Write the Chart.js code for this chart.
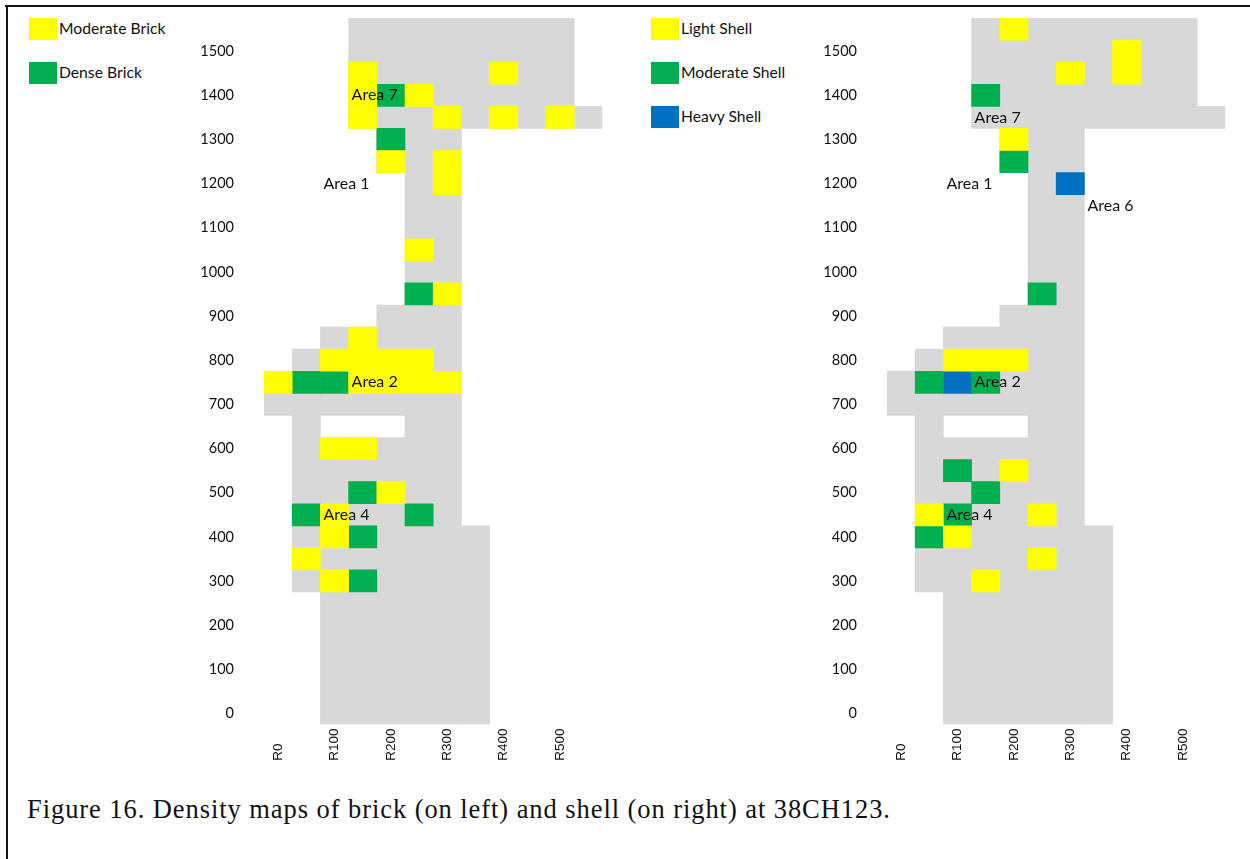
<!DOCTYPE html>
<html lang="en">
<head>
<meta charset="UTF-8">
<title>Density maps of brick and shell at 38CH123</title>
<script src="https://cdn.jsdelivr.net/npm/chart.js"></script>
<style>
  html, body { margin: 0; padding: 0; background: #fff; }
  body { position: relative; width: 1250px; height: 859px; overflow: hidden; font-family: 'Lato', sans-serif; color: #111; }
  canvas { position: absolute; top: 18px; }
  #brickChart { left: 164px; }
  #shellChart { left: 787px; }
  .frame-top { position: absolute; left: 5px; right: 0; top: 5px; height: 2px; background: #111; }
  .frame-left { position: absolute; left: 6px; top: 5px; bottom: 0; width: 2px; background: #111; }
  .swatch { position: absolute; width: 28px; height: 22px; }
  .key { position: absolute; font-size: 15.7px; line-height: 22px; white-space: nowrap; margin-top: -1px; }
  #caption { position: absolute; left: 27px; top: 793px; font-family: 'Liberation Serif', serif; font-size: 26.5px; letter-spacing: 0.93px; line-height: 32px; white-space: nowrap; color: #111; }
</style>
</head>
<body>
<div class="frame-top"></div>
<div class="frame-left"></div>
<div id="legends"></div>
<canvas id="brickChart" width="440" height="752"></canvas>
<canvas id="shellChart" width="440" height="752"></canvas>
<div id="caption">Figure 16. Density maps of brick (on left) and shell (on right) at 38CH123.</div>

<script>
const xCategories = ['R0', 'R50', 'R100', 'R150', 'R200', 'R250', 'R300', 'R350', 'R400', 'R450', 'R500', 'R550'];
const yTicks = [0, 100, 200, 300, 400, 500, 600, 700, 800, 900, 1000, 1100, 1200, 1300, 1400, 1500];

// surveyed area, same for both maps: column, first row, last row
const siteRuns = [
  ['R0', 700, 750],
  ['R50', 300, 800],
  ['R100', 0, 600], ['R100', 700, 850],
  ['R150', 0, 600], ['R150', 700, 850], ['R150', 1350, 1550],
  ['R200', 0, 600], ['R200', 700, 900], ['R200', 1250, 1550],
  ['R250', 0, 1550],
  ['R300', 0, 1550],
  ['R350', 0, 400], ['R350', 1350, 1550],
  ['R400', 1350, 1550],
  ['R450', 1350, 1550],
  ['R500', 1350, 1550],
  ['R550', 1350, 1350]
];

const moderateBrick = [
  ['R150', 1450], ['R400', 1450], ['R150', 1400], ['R250', 1400],
  ['R150', 1350], ['R300', 1350], ['R400', 1350], ['R500', 1350],
  ['R200', 1250], ['R300', 1250], ['R300', 1200], ['R250', 1050], ['R300', 950],
  ['R150', 850], ['R100', 800], ['R150', 800], ['R200', 800], ['R250', 800],
  ['R0', 750], ['R150', 750], ['R200', 750], ['R250', 750], ['R300', 750],
  ['R100', 600], ['R150', 600], ['R200', 500], ['R100', 450], ['R100', 400],
  ['R50', 350], ['R100', 300]
];
const denseBrick = [
  ['R200', 1400], ['R200', 1300], ['R250', 950], ['R50', 750], ['R100', 750],
  ['R150', 500], ['R50', 450], ['R250', 450], ['R150', 400], ['R150', 300]
];

const lightShell = [
  ['R200', 1550], ['R400', 1500], ['R300', 1450], ['R400', 1450], ['R200', 1300],
  ['R100', 800], ['R150', 800], ['R200', 800], ['R200', 550], ['R50', 450],
  ['R250', 450], ['R100', 400], ['R250', 350], ['R150', 300]
];
const moderateShell = [
  ['R150', 1400], ['R200', 1250], ['R250', 950], ['R50', 750], ['R150', 750],
  ['R100', 550], ['R150', 500], ['R100', 450], ['R50', 400]
];
const heavyShell = [['R300', 1200], ['R100', 750]];

const brickAreas = [['Area 7', 'R150', 1400], ['Area 1', 'R100', 1200], ['Area 2', 'R150', 750], ['Area 4', 'R100', 450]];
const shellAreas = [['Area 7', 'R150', 1350], ['Area 1', 'R100', 1200], ['Area 6', 'R350', 1150], ['Area 2', 'R150', 750], ['Area 4', 'R100', 450]];

const YELLOW = '#ffff00';
const GREEN = '#00b050';
const BLUE = '#0070c0';
const GREY = '#d8d8d8';
const TEXT = '#111';
const LABEL_FONT = "16px Lato";

const toCellBars = (cells) => cells.map(([col, row]) => ({ x: col, y: [row - 25, row + 25] }));
const toRunBars = (runs) => runs.map(([col, from, to]) => ({ x: col, y: [from - 25, to + 25] }));

function areaLabelPlugin(areas) {
  return {
    id: 'areaLabels',
    afterDatasetsDraw(chart) {
      const { ctx, scales } = chart;
      const halfCell = (scales.x.getPixelForValue(1) - scales.x.getPixelForValue(0)) / 2;
      ctx.save();
      ctx.font = LABEL_FONT;
      ctx.fillStyle = TEXT;
      ctx.textBaseline = 'middle';
      areas.forEach(([text, col, row]) => {
        ctx.fillText(text, scales.x.getPixelForValue(xCategories.indexOf(col)) - halfCell + 3, scales.y.getPixelForValue(row));
      });
      ctx.restore();
    }
  };
}

function drawMap(canvasId, series, areas) {
  const datasets = series.map(([label, cells, color]) => ({
    label,
    data: toCellBars(cells),
    backgroundColor: color,
    order: 1
  }));
  datasets.push({ label: 'Surveyed', data: toRunBars(siteRuns), backgroundColor: GREY, order: 2 });

  new Chart(document.getElementById(canvasId), {
    type: 'bar',
    data: { labels: xCategories, datasets },
    plugins: [areaLabelPlugin(areas)],
    options: {
      responsive: false,
      animation: false,
      layout: { autoPadding: false, padding: { top: 0, left: 0, right: 1.6, bottom: 0.5 } },
      datasets: { bar: { grouped: false, barPercentage: 1, categoryPercentage: 1, borderWidth: 0 } },
      plugins: { legend: { display: false }, tooltip: { enabled: false } },
      scales: {
        x: {
          type: 'category',
          grid: { display: false, drawTicks: false },
          border: { display: false },
          afterFit: (scale) => { scale.height = 45; scale.paddingLeft = 0; scale.paddingRight = 0; },
          ticks: {
            autoSkip: false,
            minRotation: 90,
            maxRotation: 90,
            padding: 4,
            color: TEXT,
            font: { family: 'Liberation Sans', size: 13.5 },
            // only every 100 is labelled, short names kept level at the bottom
            callback(value) {
              const name = this.getLabelForValue(value);
              return Number(name.slice(1)) % 100 === 0 ? name.padEnd(4, '\u2007') : '';
            }
          }
        },
        y: {
          type: 'linear',
          min: -25,
          max: 1575,
          grid: { display: false, drawTicks: false },
          border: { display: false },
          afterFit: (scale) => { scale.width = 100; scale.paddingTop = 0; scale.paddingBottom = 0; },
          afterBuildTicks: (scale) => { scale.ticks = yTicks.map((value) => ({ value })); },
          ticks: {
            padding: 30,
            color: TEXT,
            font: { family: 'Lato', size: 14.5 },
            callback: (value) => String(value)
          }
        }
      }
    }
  });
}

function addLegend(left, entries) {
  const holder = document.getElementById('legends');
  entries.forEach(([label, , color], i) => {
    const top = 18 + i * 44;
    const swatch = document.createElement('div');
    swatch.className = 'swatch';
    swatch.style.cssText = `left:${left}px;top:${top}px;background:${color}`;
    const key = document.createElement('div');
    key.className = 'key';
    key.style.cssText = `left:${left + 30}px;top:${top}px`;
    key.textContent = label;
    holder.append(swatch, key);
  });
}

const brickSeries = [['Moderate Brick', moderateBrick, YELLOW], ['Dense Brick', denseBrick, GREEN]];
const shellSeries = [['Light Shell', lightShell, YELLOW], ['Moderate Shell', moderateShell, GREEN], ['Heavy Shell', heavyShell, BLUE]];

drawMap('brickChart', brickSeries, brickAreas);
drawMap('shellChart', shellSeries, shellAreas);
addLegend(29, brickSeries);
addLegend(651, shellSeries);
</script>
</body>
</html>
